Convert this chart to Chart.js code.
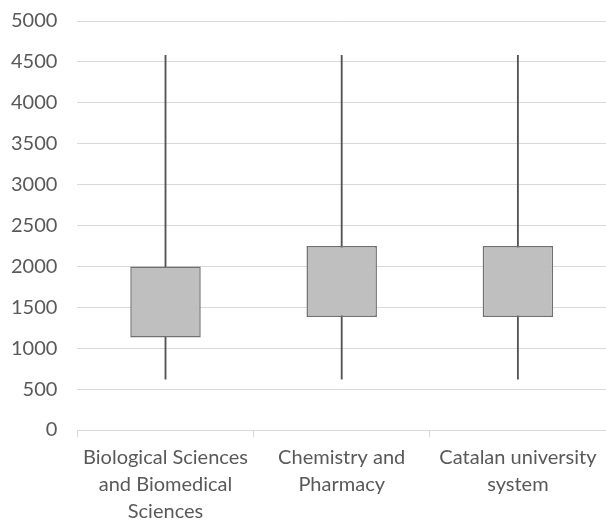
<!DOCTYPE html>
<html>
<head>
<meta charset="utf-8">
<script src="https://cdn.jsdelivr.net/npm/chart.js@4/dist/chart.umd.min.js"></script>
<style>
  html, body { margin: 0; padding: 0; background: #fff; }
  #wrap { width: 606px; height: 520px; }
</style>
</head>
<body>
<div id="wrap"><canvas id="boxChart"></canvas></div>
<script>
var categories = [
    ["Biological Sciences", "and Biomedical", "Sciences"],
    ["Chemistry and", "Pharmacy"],
    ["Catalan university", "system"]
];
var whiskerLow = [620, 620, 620];
var whiskerHigh = [4580, 4580, 4580];
var boxLow = [1130, 1380, 1380];
var boxHigh = [2000, 2250, 2250];

function pairs(lows, highs) {
    var out = [];
    for (var i = 0; i < lows.length; i++) {
        out.push([lows[i], highs[i]]);
    }
    return out;
}

var ctx = document.getElementById('boxChart');
var chart = new Chart(ctx, {
    type: 'bar',
    data: {
        labels: categories,
        datasets: [
            {
                label: 'Box',
                data: pairs(boxLow, boxHigh),
                backgroundColor: '#bfbfbf',
                borderColor: '#707070',
                borderWidth: 1.5,
                borderSkipped: false,
                barPercentage: 0.4,
                categoryPercentage: 1,
                grouped: false,
                order: 0
            },
            {
                label: 'Whisker',
                data: pairs(whiskerLow, whiskerHigh),
                backgroundColor: '#555555',
                barThickness: 1.2,
                grouped: false,
                order: 1
            }
        ]
    },
    options: {
        responsive: true,
        maintainAspectRatio: false,
        animation: false,
        // y tick padding counts twice in the axis width, hence the negative left
        layout: { padding: { left: -9, right: 0, top: 0, bottom: -13 } },
        plugins: {
            legend: { display: false },
            tooltip: { enabled: false }
        },
        scales: {
            x: {
                offset: true,
                grid: {
                    offset: true,
                    drawOnChartArea: false,
                    color: '#d9d9d9',
                    tickLength: 7
                },
                border: { color: '#d9d9d9' },
                ticks: {
                    color: '#595959',
                    padding: 7.5,
                    maxRotation: 0,
                    autoSkip: false,
                    font: { family: 'Lato', size: 20, lineHeight: 1.35 }
                }
            },
            y: {
                min: 0,
                max: 5000,
                grid: { color: '#d9d9d9', drawTicks: false },
                border: { display: false },
                ticks: {
                    stepSize: 500,
                    color: '#595959',
                    padding: 20,
                    // tiny line height keeps the top label from pushing the plot down
                    font: { family: 'Lato', size: 20, lineHeight: 0.1 },
                    callback: function(value) { return String(value); }
                }
            }
        }
    }
});
</script>
</body>
</html>
